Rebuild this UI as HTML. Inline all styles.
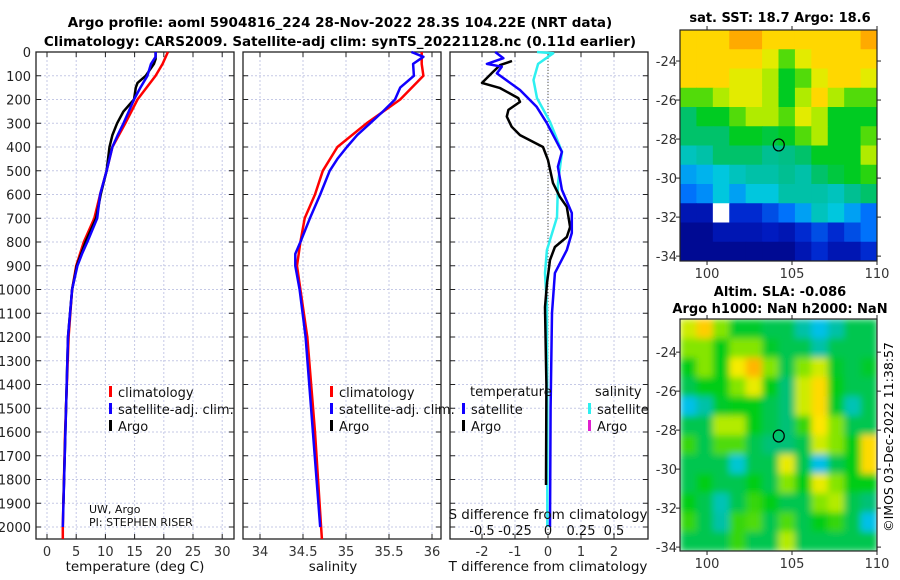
<!DOCTYPE html>
<html><head><meta charset="utf-8"><style>
body{margin:0;background:#fff}
svg{display:block;font-family:"DejaVu Sans","Liberation Sans",sans-serif}
</style></head><body>
<svg id="c" width="900" height="580" viewBox="0 0 900 580">
<defs>
<filter id="blur" x="0" y="0" width="1" height="1"><feGaussianBlur stdDeviation="3.5" edgeMode="duplicate"/></filter>
<clipPath id="clipSla"><rect x="680" y="319" width="197" height="232"/></clipPath>
<clipPath id="clipSst"><rect x="680" y="30" width="197" height="231"/></clipPath>
</defs>
<text x="340" y="27" font-size="13.5" font-weight="bold" text-anchor="middle">Argo profile: aoml 5904816_224 28-Nov-2022 28.3S 104.22E (NRT data)</text>
<text x="340" y="46" font-size="13.5" font-weight="bold" text-anchor="middle">Climatology: CARS2009. Satellite-adj clim: synTS_20221128.nc (0.11d earlier)</text>
<text x="780" y="22" font-size="13" font-weight="bold" text-anchor="middle">sat. SST: 18.7 Argo: 18.6</text>
<text x="780" y="296" font-size="13" font-weight="bold" text-anchor="middle">Altim. SLA: -0.086</text>
<text x="780" y="313" font-size="13" font-weight="bold" text-anchor="middle">Argo h1000: NaN h2000: NaN</text>
<text x="0" y="0" font-size="12.5" text-anchor="middle" transform="translate(893,437) rotate(-90)">©IMOS 03-Dec-2022 11:38:57</text>
<g id="layer"></g>
</svg>
<script>
// ---- data ----
const depthTicks=[0,100,200,300,400,500,600,700,800,900,1000,1100,1200,1300,1400,1500,1600,1700,1800,1900,2000];
const tempTicks=[0,5,10,15,20,25,30];
const salTicks=[34,34.5,35,35.5,36];
const tdTicks=[-2,-1,0,1,2];
const sdTicks=[-0.5,-0.25,0,0.25,0.5];
const sdTickLabels=["-0.5","-0.25","0","0.25","0.5"];
const depthClim=[0,50,100,200,300,400,500,600,700,800,900,1000,1200,1600,2000,2050];
const tempClim=[20.7,19.8,18.6,15.5,13.4,11.2,10.2,9.1,8.1,6.3,5.0,4.3,3.7,3.1,2.7,2.7];
const salClim=[35.88,35.88,35.9,35.63,35.24,34.9,34.73,34.64,34.52,34.47,34.43,34.47,34.55,34.64,34.71,34.72];
const depthSat=[0,20,50,100,150,200,250,300,350,400,450,500,600,700,800,850,900,1000,1200,2000];
const tempSat=[18.6,18.6,17.8,17.2,16.0,14.9,14.0,13.1,12.1,11.2,10.7,10.2,9.1,8.6,6.9,6.0,5.2,4.3,3.6,2.7];
const salSat=[35.76,35.9,35.78,35.79,35.63,35.57,35.43,35.28,35.13,35.01,34.9,34.81,34.7,34.58,34.47,34.41,34.41,34.46,34.53,34.7];
const depthArgo=[0,30,50,100,130,150,200,250,300,350,400,500,600,700,800,900,1000,1200,1900];
const tempArgo=[18.6,18.6,18.3,16.9,15.5,15.2,14.9,13.1,12.0,11.2,10.7,10.2,9.2,8.4,6.6,5.1,4.3,3.6,2.8];
const depthTd=[0,26,50,62,90,160,230,300,420,483,580,678,762,834,931,1099,1500,2000];
const tdSat=[-1.6,-1.35,-1.85,-1.4,-1.55,-0.85,-0.35,-0.03,0.42,0.3,0.42,0.72,0.72,0.57,0.21,0.12,0.08,0.06];
const depthTa=[38,55,84,130,152,194,210,244,272,315,350,400,455,552,610,652,737,779,821,876,973,1074,1400,1823];
const tdArgo=[-1.09,-1.45,-1.67,-2.0,-1.45,-0.9,-0.85,-1.2,-1.25,-1.1,-0.85,-0.15,0,0.15,0.36,0.57,0.67,0.57,0.21,0.06,-0.03,-0.09,-0.05,-0.06];
const depthSd=[0,5,50,118,194,294,420,552,695,834,931,1074,1500,2000];
const sdSat=[-0.083,0.04,-0.075,-0.11,-0.083,0.015,0.106,0.076,0.068,-0.008,-0.023,-0.008,-0.005,-0.005];
const latTicks=[-24,-26,-28,-30,-32,-34];
const lonTicks=[100,105,110];
const sstGrid=[
[21,21,21,21.5,21.5,21,21,21,21,21,21,21.5],
[21,21,21,21,21,20.5,19.5,20.5,21,21,21,21],
[21,21,21,20.5,20.5,20,19,19.5,20.5,21,21,20.5],
[19.5,19.5,20,20.5,20.5,20,19,20,21,20,19.5,19.5],
[18.5,19,19,19.5,20,20,19.5,20.5,20,19,19,19],
[18.5,18.5,18.5,19,19,18.8,19,19.5,20,19,19,19.5],
[17.8,18,18.5,18.5,18.5,18.2,18.3,18.5,19,19,19,20],
[17,17.2,17.5,17.8,18,18,18.2,18,18.5,18.8,19,19.3],
[16.5,16.8,17.5,17,17.5,17.5,18,18,18,17.8,18.2,18.5],
[15,15,null,15.5,15.5,16,16.5,17,17.8,17.5,17,16.5],
[14.5,14.5,15,15,15,15.2,15,15.5,16,15.5,16,16.5],
[14.5,14.5,14.5,14.5,14.5,14.5,14.5,15,15.5,15,15,15.5]];
const slaGrid=[
[0.12,0.18,0.08,0.02,0.02,0,0,-0.05,-0.1,-0.05,0,0],
[0.08,0.08,0.03,0.08,0.08,0.02,0,0,-0.05,0,0,0],
[0.03,0.08,0.03,0.15,0.2,0.08,0,0.08,0.12,0.02,0,0.02],
[0,0.03,0.03,0.08,0.14,0.03,-0.02,0.12,0.17,0.03,0,0],
[-0.1,-0.05,0.02,0.03,0.03,0,-0.02,0.12,0.17,0.02,-0.06,0],
[0,0,0.1,0.1,0.03,0,-0.02,0.05,0.16,0.08,0,0],
[0.05,0,0.06,0.06,0,-0.02,-0.02,0,0.12,0.08,0.03,0.17],
[0,0,0,-0.08,0,0,0.14,0,-0.1,0,0.03,0.17],
[0,0.03,0,0,0.03,0,0.08,0.03,0.14,0.08,0.03,0.03],
[0.03,0,-0.06,0,0.05,0.03,0,0,0.08,0.1,0,-0.02],
[0.05,0,-0.05,0.05,0.06,0,0.06,0,0.03,0.05,0,-0.1],
[0,0,0,0.05,0,0,0.1,0,0,0,0,0]];
const argoLon=104.22, argoLat=-28.3;

// ---- helpers ----
const NS="http://www.w3.org/2000/svg";
const L=document.getElementById('layer');
function mk(t,a,p){const e=document.createElementNS(NS,t);for(const k in a)e.setAttribute(k,a[k]);(p||L).appendChild(e);return e;}
const yD=d=>52+d*0.2375;
const Y0=52,Y1=539;
function panel(x0,x1,xs,ticks,labels,name){
  const g=mk('g',{});
  
  
  ticks.forEach(t=>mk('line',{x1:xs(t),x2:xs(t),y1:Y0,y2:Y1,stroke:'#c5c9e6','stroke-width':1,'stroke-dasharray':'2,2'},g));
  depthTicks.forEach(d=>mk('line',{x1:x0,x2:x1,y1:yD(d),y2:yD(d),stroke:'#c5c9e6','stroke-width':1,'stroke-dasharray':'2,2'},g));
  mk('rect',{x:x0,y:Y0,width:x1-x0,height:Y1-Y0,fill:'none',stroke:'#222','stroke-width':1.3},g);
  depthTicks.forEach(d=>{mk('line',{x1:x0,x2:x0+5,y1:yD(d),y2:yD(d),stroke:'#222'},g);mk('line',{x1:x1-5,x2:x1,y1:yD(d),y2:yD(d),stroke:'#222'},g);});
  ticks.forEach((t,i)=>{mk('line',{x1:xs(t),x2:xs(t),y1:Y1-5,y2:Y1,stroke:'#222'},g);mk('line',{x1:xs(t),x2:xs(t),y1:Y0,y2:Y0+5,stroke:'#222'},g);
    const tx=mk('text',{x:xs(t),y:556,'font-size':13,'text-anchor':'middle',fill:'#333'},g);tx.textContent=labels[i];});
  return g;
}
function line(xs,vals,deps,color,w,name){
  const pts=vals.map((v,i)=>xs(v).toFixed(1)+','+yD(deps[i]).toFixed(1)).join(' ');
  const p=mk('polyline',{points:pts,fill:'none',stroke:color,'stroke-width':w,'stroke-linejoin':'round'});
  
  
}
function txt(x,y,s,size,anchor,name){const t=mk('text',{x:x,y:y,'font-size':size,'text-anchor':anchor||'start',fill:'#111'});t.textContent=s;
  
  return t;}
function legItem(x,y,color,label,name){
  const g=mk('g',{});
  
  
  mk('rect',{x:x,y:y-11,width:3,height:11,fill:color},g);
  const t=mk('text',{x:x+9,y:y,'font-size':13,fill:'#111'},g);t.textContent=label;
}

// temperature panel
const xT=v=>47+v*5.84;
panel(36,234,xT,tempTicks,tempTicks.map(String),'temperature-panel');
depthTicks.forEach(d=>{const t=mk('text',{x:31,y:yD(d)+5,'font-size':13,'text-anchor':'end',fill:'#222'});t.textContent=d;});
line(xT,tempClim,depthClim,'#f00',2.5,'temp-climatology-line');
line(xT,tempArgo,depthArgo,'#000',2.5,'temp-argo-line');
line(xT,tempSat,depthSat,'#10f',2.5,'temp-satellite-line');
txt(135,571,'temperature (deg C)',13.5,'middle','temperature-axis-title');
legItem(109,397,'#f00','climatology','legend-climatology');
legItem(109,414,'#10f','satellite-adj. clim.','legend-satellite');
legItem(109,431,'#000','Argo','legend-argo');
txt(89,513,'UW, Argo',11,'start','pi-institution');
txt(89,526,'PI: STEPHEN RISER',11,'start','pi-name');

// salinity panel
const xS=v=>260+(v-34)*86;
panel(243,441,xS,salTicks,salTicks.map(String),'salinity-panel');
line(xS,salClim,depthClim,'#f00',2.5,'sal-climatology-line');
line(xS,salSat,depthSat,'#10f',2.5,'sal-satellite-line');
txt(333,571,'salinity',13.5,'middle','salinity-axis-title');
legItem(330,397,'#f00','climatology','legend-sal-climatology');
legItem(330,414,'#10f','satellite-adj. clim.','legend-sal-satellite');
legItem(330,431,'#000','Argo','legend-sal-argo');

// difference panel
const xD=v=>548+v*33;
const xSd=v=>xD(v*4);
panel(450,648,xD,tdTicks,tdTicks.map(String),'difference-panel');
mk('line',{x1:xD(0),x2:xD(0),y1:Y0,y2:Y1,stroke:'#554',"stroke-width":1,'stroke-dasharray':'1,2'});
line(xSd,sdSat,depthSd,'#2ef0f0',2.5,'sal-diff-satellite-line');
line(xD,tdArgo,depthTa,'#000',2.5,'temp-diff-argo-line');
line(xD,tdSat,depthTd,'#10f',2.5,'temp-diff-satellite-line');
txt(548,571,'T difference from climatology',13.5,'middle','tdiff-axis-title');
txt(548,519,'S difference from climatology',13.5,'middle','sdiff-axis-title');
sdTicks.forEach((v,i)=>txt(xSd(v),535,sdTickLabels[i],13,'middle','sdiff-tick'));
txt(470,396,'temperature',13,'start','legend-temp-header');
txt(595,396,'salinity',13,'start','legend-sal-header');
legItem(462,414,'#10f','satellite','legend-tdiff-satellite');
legItem(462,431,'#000','Argo','legend-tdiff-argo');
legItem(588,414,'#2ef0f0','satellite','legend-sdiff-satellite');
legItem(588,431,'#e020d0','Argo','legend-sdiff-argo');

// maps
const cmStops=[[0,0,0,120],[0.15,0,30,200],[0.3,0,120,255],[0.4,0,200,230],[0.5,0,190,140],[0.6,0,205,20],[0.7,170,235,0],[0.8,255,235,0],[0.9,255,160,0],[1,230,60,0]];
function cmap(t){t=Math.max(0,Math.min(1,t));
  for(let i=1;i<cmStops.length;i++){if(t<=cmStops[i][0]){const a=cmStops[i-1],b=cmStops[i],f=(t-a[0])/(b[0]-a[0]);
    return `rgb(${Math.round(a[1]+f*(b[1]-a[1]))},${Math.round(a[2]+f*(b[2]-a[2]))},${Math.round(a[3]+f*(b[3]-a[3]))})`;}}
  return 'rgb(230,60,0)';}
function map(y0,y1,latTop,latBot,grid,cmin,cmax,name,smooth){
  const x0=680,x1=877,lonL=98.41,lonR=110;
  const xs=l=>x0+(l-lonL)*(x1-x0)/(lonR-lonL);
  const ys=la=>y0+(latTop-la)*(y1-y0)/(latTop-latBot);
  const g=mk('g',{});
  
  
  const cg=mk('g',smooth?{'clip-path':'url(#clipSla)'}:{'clip-path':'url(#clipSst)'},g);
  const cells=mk('g',smooth?{filter:'url(#blur)'}:{},cg);
  const nr=grid.length,nc=grid[0].length,cw=(x1-x0)/nc,ch=(y1-y0)/nr;
  grid.forEach((row,r)=>row.forEach((v,c)=>{
    const cell=mk('rect',{x:x0+c*cw,y:y0+r*ch,width:cw+0.6,height:ch+0.6,fill:v===null?'#fff':cmap((v-cmin)/(cmax-cmin))},cells);
    
    
  }));
  mk('rect',{x:x0,y:y0,width:x1-x0,height:y1-y0,fill:'none',stroke:'#222','stroke-width':1.2},g);
  latTicks.forEach(la=>{const y=ys(la);mk('line',{x1:x0-4,x2:x0,y1:y,y2:y,stroke:'#222'},g);mk('line',{x1:x1,x2:x1+4,y1:y,y2:y,stroke:'#222'},g);
    const t=mk('text',{x:x0-3,y:y+5,'font-size':13,'text-anchor':'end',fill:'#333'},g);t.textContent=la;});
  lonTicks.forEach(lo=>{const x=xs(lo);mk('line',{x1:x,x2:x,y1:y1,y2:y1+4,stroke:'#222'},g);mk('line',{x1:x,x2:x,y1:y0-4,y2:y0,stroke:'#222'},g);
    const t=mk('text',{x:x,y:y1+17,'font-size':13,'text-anchor':'middle',fill:'#333'},g);t.textContent=lo;});
  const c=mk('ellipse',{cx:xs(argoLon),cy:ys(argoLat),rx:5.5,ry:6,fill:'none',stroke:'#000','stroke-width':1.2},g);
  
  
}
map(30,261,-22.41,-34.25,sstGrid,14.07,22.45,'sst-map',false);
map(319,551,-22.3,-34.2,slaGrid,-0.344,0.281,'sla-map',true);
</script>
</body></html>
